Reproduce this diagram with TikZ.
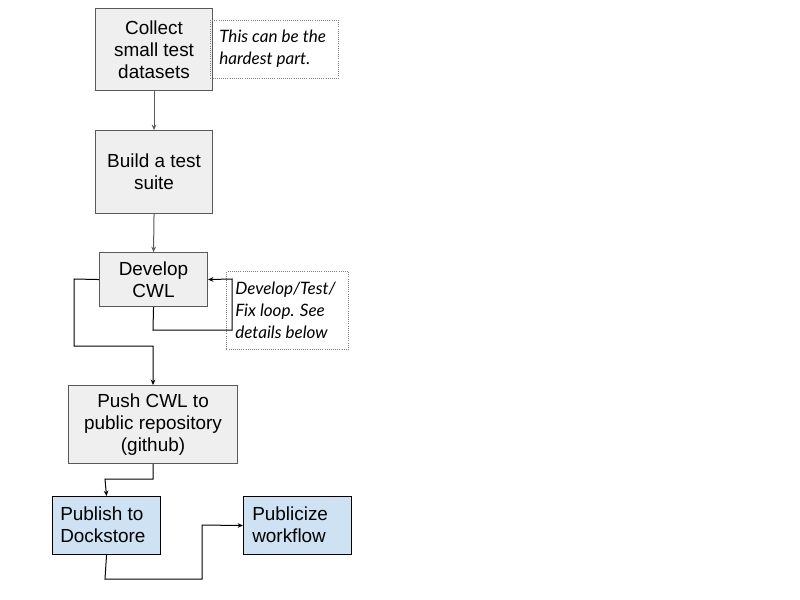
\documentclass[tikz,border=0pt]{standalone}
\usepackage{fontspec}
\setmainfont{Liberation Sans}
\newfontfamily\notefont{Lato}
\usetikzlibrary{arrows.meta}
\definecolor{boxgray}{HTML}{EFEFEF}
\definecolor{boxblue}{HTML}{CFE2F3}
\definecolor{edgegray}{HTML}{595959}
\tikzset{
  px/.style={x=0.75pt,y=-0.75pt},
  mainfs/.style={font=\fontsize{14.2}{16.6}\selectfont},
  notefs/.style={font=\notefont\itshape\fontsize{12.8}{16.5}\selectfont},
  graybox/.style={draw=edgegray,fill=boxgray,line width=0.8pt,inner sep=0pt,align=center,mainfs},
  bluebox/.style={draw=black,fill=boxblue,line width=0.8pt,inner sep=0pt},
  notebox/.style={draw=gray,densely dotted,line width=0.6pt,inner sep=0pt},
  notetext/.style={anchor=west,notefs,align=left,inner sep=0pt},
  bluetext/.style={anchor=west,mainfs,align=left,inner sep=0pt},
  conn/.style={line width=0.75pt,-{Stealth[length=4pt,width=3.5pt]}},
  gconn/.style={conn,draw=edgegray}
}
\begin{document}
\begin{tikzpicture}[px]
\useasboundingbox (0,0) rectangle (800,600);
\fill[white] (0,0) rectangle (800,600);
% boxes
\node[graybox,minimum width=87.75pt,minimum height=61.5pt,anchor=north west] (collect) at (95,8) {Collect\\small test\\datasets};
\node[notebox,minimum width=96pt,minimum height=43.5pt,anchor=north west] (note1) at (210,20) {};
\node[notetext] (note1t) at (219,49) {This can be the\\hardest part.};
\node[graybox,minimum width=87.75pt,minimum height=62.25pt,anchor=north west] (build) at (95,130) {Build a test\\suite};
\node[graybox,minimum width=81pt,minimum height=40.5pt,anchor=north west] (develop) at (99,252) {Develop\\CWL};
\node[notebox,minimum width=91.5pt,minimum height=58.5pt,anchor=north west] (note2) at (226,271) {};
\node[notetext] (note2t) at (235,310) {Develop/Test/\\Fix loop. See\\details below};
\node[graybox,minimum width=126.75pt,minimum height=58.5pt,anchor=north west] (push) at (68,385) {Push CWL to\\public repository\\(github)};
\node[bluebox,minimum width=81pt,minimum height=43.5pt,anchor=north west] (publish) at (52,496) {};
\node[bluetext] (publisht) at (60,525) {Publish to\\Dockstore};
\node[bluebox,minimum width=81pt,minimum height=43.5pt,anchor=north west] (publicize) at (243,496) {};
\node[bluetext] (publicizet) at (252,525) {Publicize\\workflow};
% connectors
\draw[gconn] (collect.south) -- (build.north);
\draw[gconn] (build.south) -- (develop.north);
\coordinate (l1) at (153,330);
\coordinate (l2) at (232,330);
\coordinate (l3) at (232,279);
\draw[conn] (develop.south) -- (l1) -- (l2) -- (l3) -- (develop.east);
\coordinate (m1) at (74,279);
\coordinate (m2) at (74,346);
\coordinate (m3) at (153,346);
\draw[conn] (develop.west) -- (m1) -- (m2) -- (m3) -- (push.north);
\coordinate (p1) at (153,479);
\coordinate (p2) at (105,479);
\draw[conn] (push.south) -- (p1) -- (p2) -- (publish.north);
\coordinate (q1) at (105,579);
\coordinate (q2) at (202,579);
\coordinate (q3) at (202,525);
\draw[conn] (publish.south) -- (q1) -- (q2) -- (q3) -- (publicize.west);
\end{tikzpicture}
\end{document}
